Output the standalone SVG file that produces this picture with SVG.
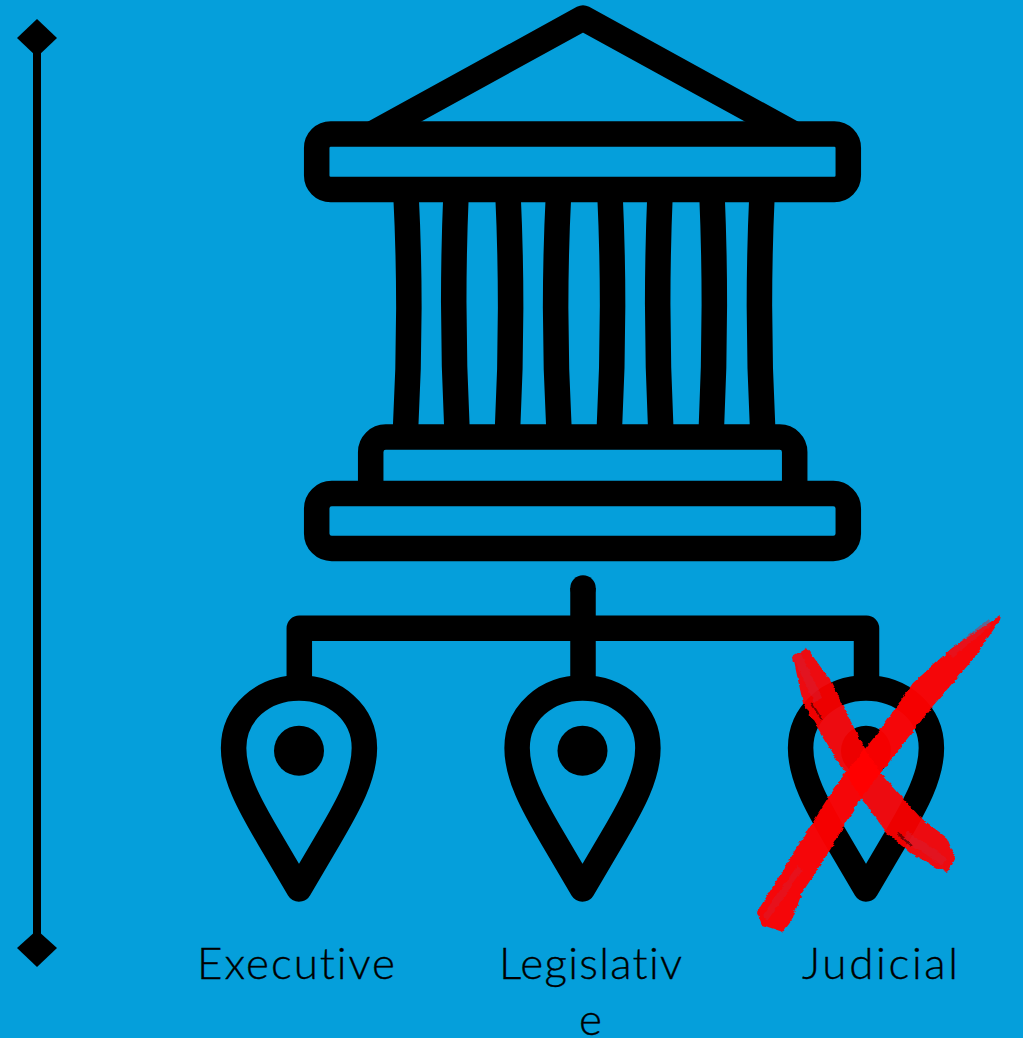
<svg xmlns="http://www.w3.org/2000/svg" width="1023" height="1038" viewBox="0 0 1023 1038">
<style>
.l{fill:none;stroke:#000;stroke-width:25.5;stroke-linecap:butt;stroke-linejoin:round}
.t{font-family:"Lato","Liberation Sans",sans-serif;font-weight:300;font-size:44px;fill:#000;stroke:#000;stroke-width:.35;font-variant-ligatures:none}
.r{fill:#f00}
</style>
<defs>
<filter id="rough" x="-10%" y="-10%" width="120%" height="120%" color-interpolation-filters="sRGB">
<feTurbulence type="fractalNoise" baseFrequency="0.1 0.22" numOctaves="3" seed="4"/>
<feDisplacementMap in="SourceGraphic" scale="4" xChannelSelector="R" yChannelSelector="G"/>
<feGaussianBlur stdDeviation="0.7"/>
</filter>
<path id="pin" class="l" d="M0 138L-30 87C-50 53-65.400 25-65.400-3C-65.400-38-36-63 0-63C36-63 65.400-38 65.400-3C65.400 25 50 53 30 87Z"/>
</defs>
<rect width="1023" height="1038" fill="#059fdb"/>
<g id="scale">
<rect x="33" y="38" width="8" height="910"/>
<polygon points="37,19 57,38 37,57 17,38"/>
<polygon points="37,930 57,948 37,967 17,948"/>
</g>
<g id="temple">
<path class="l" d="M372 134L583 18L794 134"/>
<rect class="l" x="316.700" y="134" width="531.600" height="55.500" rx="14"/>
<path class="l" d="M406 195Q412 313 405.500 430M456 195Q451 313 457 430M508 195Q513.500 313 507.500 430M558.500 195Q552.500 313 559 430M610 195Q615.500 313 609.300 430M660 195Q655 313 660.800 430M712 195Q717 313 711.300 430M762 195Q756.500 313 762.700 430"/>
<path class="l" d="M370.700 490V452A15 15 0 0 1 385.700 437H779.700A15 15 0 0 1 794.700 452V490"/>
<rect class="l" x="316.700" y="493.500" width="531.600" height="55" rx="15"/>
</g>
<g id="connectors">
<path class="l" d="M583 588V680M299.300 680V628.300H866.500V680"/>
<circle cx="583" cy="588" r="12.750"/>
</g>
<g id="executive">
<use href="#pin" x="299" y="751"/>
<circle cx="299" cy="750.700" r="25"/>
<text class="t" x="197" y="979" textLength="198">Executive</text>
</g>
<g id="legislative">
<use href="#pin" x="582.500" y="751"/>
<circle cx="582.500" cy="750.700" r="25"/>
<text class="t" x="499" y="979" textLength="183">Legislativ</text>
<text class="t" x="579" y="1035">e</text>
</g>
<g id="judicial">
<use href="#pin" x="866" y="751"/>
<circle cx="866" cy="750.700" r="25"/>
<text class="t" x="802" y="979" textLength="156">Judicial</text>
</g>
<g id="cross" filter="url(#rough)">
<path class="r" opacity=".93" d="M793 657L807 648L830 680L850 720L866 750L880 772L920 817L947 838L955 857L947 873L910 853L887 833L860 797L823 737L803 703Z"/>
<path d="M797 655L818 700M905 835L945 862" stroke="#d81c30" stroke-width="9" opacity=".5" fill="none"/>
<path d="M811 702L822 720M897 833L912 846" stroke="#000" stroke-width="2" opacity=".5" fill="none"/>
<path class="r" opacity=".96" d="M1001 615L953 647L913 683L880 730L864 750L840 780L808 830L757 912L762 925L783 932L792 920L802 893L830 850L860 800L893 757L932 707L975 657L1000 620Z"/>
<path d="M765 918L800 868M950 655L990 622" stroke="#d81c30" stroke-width="7" opacity=".45" fill="none"/>
</g>
</svg>
